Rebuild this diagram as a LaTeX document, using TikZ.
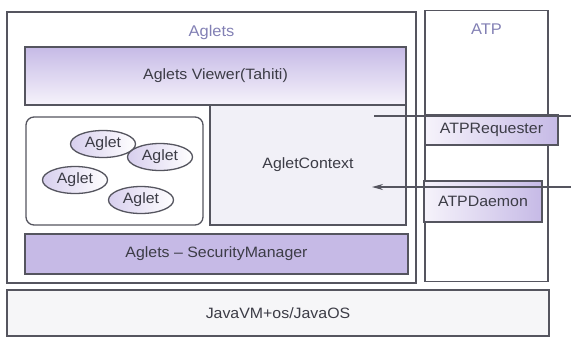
\documentclass[tikz,border=0pt]{standalone}
\usepackage{fontspec}
\setmainfont{Liberation Sans}[FakeStretch=1.06]
\definecolor{layerpurple}{RGB}{198, 186, 230}
\definecolor{palepurple}{RGB}{246, 243, 251}
\definecolor{contextfill}{RGB}{241, 240, 247}
\definecolor{basefill}{RGB}{246, 246, 248}
\definecolor{boxline}{RGB}{85, 85, 95}
\definecolor{textgray}{RGB}{60, 60, 70}
\definecolor{titleblue}{RGB}{130, 128, 180}
\usetikzlibrary{shapes.geometric, arrows.meta, positioning, calc}

\begin{document}
\begin{tikzpicture}[x=1pt, y=-1pt,
    layer/.style={draw=boxline, line width=1.3pt, inner sep=0pt,
                  font=\fontsize{15}{17}\selectfont, text=textgray},
    agletnode/.style={ellipse, draw=boxline, line width=1.3pt, inner sep=0pt,
                      minimum width=65pt, minimum height=27pt,
                      left color=layerpurple!70, right color=white,
                      font=\fontsize{15}{17}\selectfont, text=textgray},
    title/.style={font=\fontsize{15.5}{17}\selectfont, text=titleblue},
    link/.style={draw=boxline, line width=1.3pt}]
  \useasboundingbox (0,0) rectangle (571,338);
  % outer frames
  \node[layer, minimum width=409pt, minimum height=271pt] (aglets) at (211.5,147.5) {};
  \node[layer, minimum width=123pt, minimum height=271pt] (atp) at (486.5,146) {};
  \node[layer, fill=basefill, minimum width=542pt, minimum height=46pt] (javavm) at (278,313) {JavaVM+os/JavaOS};
  \node[title, below=10pt of aglets.north] {Aglets};
  \node[title, below=10pt of atp.north] {ATP};
  % Aglets layers
  \node[layer, top color=layerpurple, bottom color=palepurple,
        minimum width=381pt, minimum height=58pt] (viewer) at (215.5,76) {Aglets Viewer(Tahiti)};
  \node[layer, rounded corners=8pt, fill=white,
        minimum width=177pt, minimum height=108pt] (agletpool) at (114.5,171) {};
  \node[layer, fill=contextfill, minimum width=196pt, minimum height=120pt] (context) at (308,165) {AgletContext};
  \node[layer, fill=layerpurple, minimum width=383pt, minimum height=40pt] (security) at (216.5,254) {Aglets -- SecurityManager};
  % the aglets
  \node[agletnode] (aglet1) at (103,144) {Aglet};
  \node[agletnode] (aglet2) at (160,157) {Aglet};
  \node[agletnode] (aglet3) at (75,180) {Aglet};
  \node[agletnode] (aglet4) at (141,200) {Aglet};
  % ATP parts
  \node[layer, left color=palepurple, right color=layerpurple,
        minimum width=133pt, minimum height=30pt] (requester) at (491.5,130) {ATPRequester};
  \node[layer, left color=palepurple, right color=layerpurple,
        minimum width=118pt, minimum height=41pt] (daemon) at (483,201.5) {ATPDaemon};
  % connections
  \coordinate (reqstart) at (374,116);
  \coordinate (reqend) at (571,116);
  \coordinate (dmnstart) at (571,187);
  \coordinate (dmnend) at (372,187);
  \draw[link] (reqstart) -- (reqend);
  \draw[link, -{Stealth[length=11pt, width=6pt]}] (dmnstart) -- (dmnend);
\end{tikzpicture}
\end{document}
